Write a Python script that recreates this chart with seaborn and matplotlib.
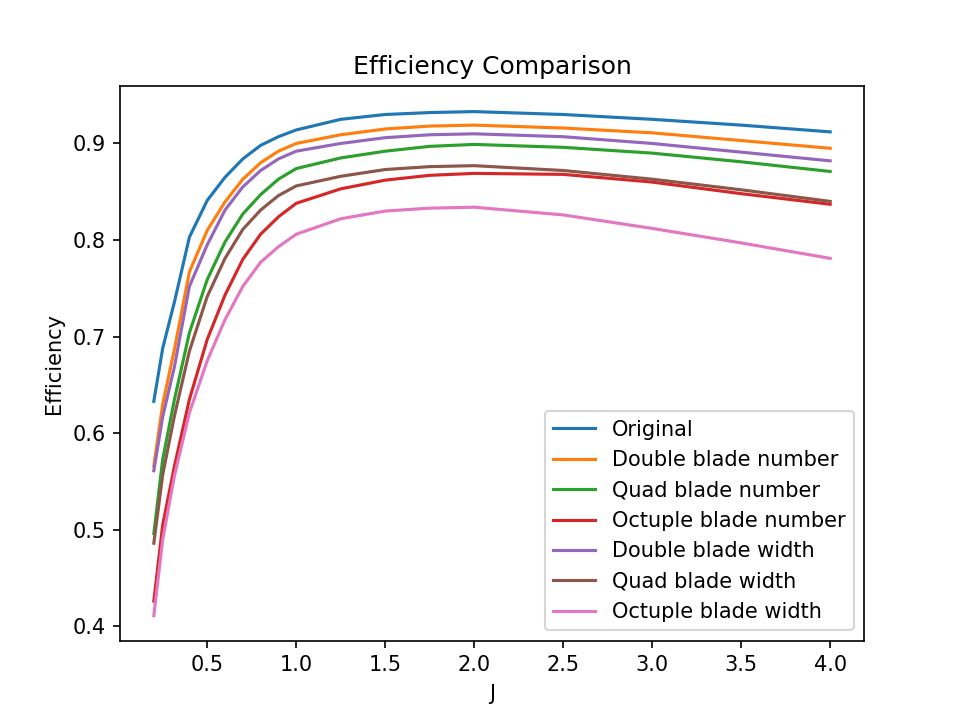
import numpy as np
import pandas as pd
import seaborn as sns
import matplotlib.pyplot as plt

# Advance ratio J and efficiency
J = [0.2, 0.25, 0.316, 0.4, 0.5, 0.6, 0.7, 0.8, 0.9, 1.0, 1.25, 1.5, 1.75, 2.0, 2.5, 3.0, 3.5, 4.0]

original = [0.633, 0.688, 0.736, 0.803, 0.841, 0.865, 0.884, 0.898, 0.907, 0.914, 0.925, 0.930, 0.932, 0.933, 0.930, 0.925, 0.919, 0.912]
double_number = [0.566, 0.630, 0.687, 0.767, 0.810, 0.8395, 0.863, 0.880, 0.892, 0.900, 0.909, 0.915, 0.918, 0.919, 0.916, 0.911, 0.903, 0.895]
quad_number = [0.496, 0.573, 0.635, 0.704, 0.759, 0.798, 0.827, 0.847, 0.863, 0.874, 0.885, 0.892, 0.897, 0.899, 0.896, 0.890, 0.881, 0.871]
octuple_number = [0.426, 0.505, 0.566, 0.635, 0.697, 0.743, 0.780, 0.806, 0.824, 0.838, 0.853, 0.862, 0.867, 0.869, 0.868, 0.860, 0.848, 0.837]
double_width = [0.561, 0.617, 0.669, 0.752, 0.795, 0.831, 0.855, 0.872, 0.884, 0.892, 0.900, 0.906, 0.909, 0.910, 0.907, 0.900, 0.891, 0.882]
quad_width = [0.486, 0.557, 0.618, 0.685, 0.7415, 0.781, 0.811, 0.831, 0.846, 0.856, 0.866, 0.873, 0.876, 0.877, 0.872, 0.863, 0.852, 0.840]
octuple_width = [0.411, 0.490, 0.556, 0.621, 0.675, 0.7175, 0.752, 0.777, 0.793, 0.806, 0.822, 0.830, 0.833, 0.834, 0.826, 0.812, 0.797, 0.781]

labels = ["Original", "Double blade number", "Quad blade number", "Octuple blade number",
          "Double blade width", "Quad blade width", "Octuple blade width"]
series = [original, double_number, quad_number, octuple_number,
          double_width, quad_width, octuple_width]

df = pd.concat(
    [pd.DataFrame({"J": J, "Efficiency": s, "config": name}) for name, s in zip(labels, series)],
    ignore_index=True,
)

fig, ax = plt.subplots(figsize=(6.4, 4.8), dpi=150)
sns.lineplot(data=df, x="J", y="Efficiency", hue="config", hue_order=labels,
             palette="tab10", ax=ax)

ax.set_title("Efficiency Comparison")
ax.set_xlabel("J")
ax.set_ylabel("Efficiency")
h, l = ax.get_legend_handles_labels()
ax.legend(h, l, loc="lower right")

fig.savefig("out.png")
